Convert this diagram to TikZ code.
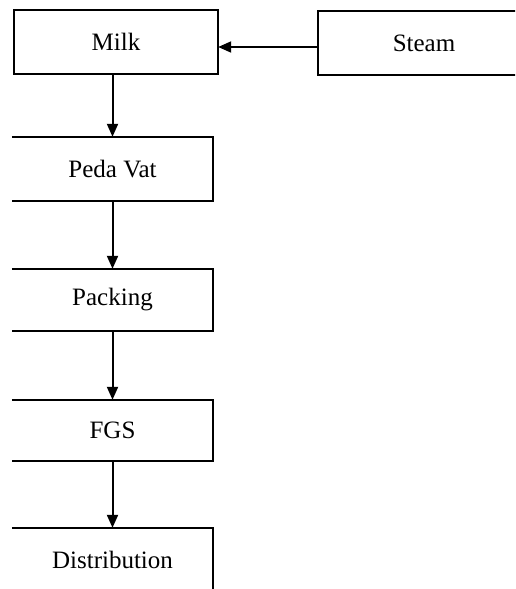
\documentclass[tikz,border=0pt]{standalone}
\usepackage{fontspec}
\setmainfont{Liberation Serif}
\usetikzlibrary{arrows.meta}
\begin{document}
\begin{tikzpicture}[x=1pt,y=-1pt,
  lbl/.style={inner sep=0pt, font=\fontsize{25}{30}\selectfont},
  edge/.style={line width=2pt},
  flow/.style={edge,-{Triangle[length=13pt,width=11pt]}}]
\useasboundingbox (0,0) rectangle (515,589);
\clip (0,0) rectangle (515,589);
\node[lbl, minimum width=204pt, minimum height=64pt] (milk) at (116,42) {Milk};
\node[lbl, minimum width=212pt, minimum height=64pt] (steam) at (424,43) {Steam};
\node[lbl, minimum width=201pt, minimum height=64pt] (peda) at (112.5,169) {Peda Vat};
\node[lbl, minimum width=201pt, minimum height=62pt] (pack) at (112.5,300) {Packing};
\node[lbl, minimum width=201pt, minimum height=61pt] (fgs) at (112.5,430.5) {FGS};
\node[lbl, minimum width=201pt, minimum height=64pt] (dist) at (112.5,560) {Distribution};
% boxes
\draw[edge] (milk.north west) rectangle (milk.south east);
\draw[edge] (steam.north east) -- (steam.north west) -- (steam.south west) -- (steam.south east);
\draw[edge] (peda.north west) -- (peda.north east) -- (peda.south east) -- (peda.south west);
\draw[edge] (pack.north west) -- (pack.north east) -- (pack.south east) -- (pack.south west);
\draw[edge] (fgs.north west) -- (fgs.north east) -- (fgs.south east) -- (fgs.south west);
\draw[edge] (dist.north west) -- (dist.north east) -- (dist.south east);
% connectors
\draw[flow] ([yshift=-4pt]steam.west) -- ([yshift=-4pt]milk.east |- steam.west);
\draw[flow] (peda.north |- milk.south) -- (peda.north);
\draw[flow] (peda.south) -- (pack.north);
\draw[flow] (pack.south) -- (fgs.north);
\draw[flow] (fgs.south) -- (dist.north);
\end{tikzpicture}
\end{document}
